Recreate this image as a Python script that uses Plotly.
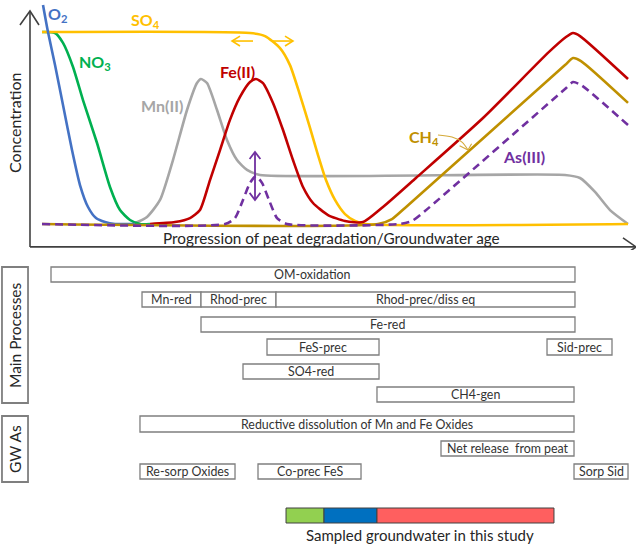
import plotly.graph_objects as go

# ---------------- data (progression units p, concentration units c) ----------------
P_O2 = [2.17, 3.0, 4.17, 5.5, 7.0, 8.33, 9.67, 11.0, 12.5, 14.17, 17.5]
C_O2 = [1.147, 1.005, 0.832, 0.623, 0.387, 0.204, 0.089, 0.031, 0.010, 0.0, 0.0]

P_NO3 = [2.0, 4.17, 5.5, 7.17, 8.83, 11.17, 13.33, 15.0, 16.67, 18.33, 20.0]
C_NO3 = [1.005, 1.0, 0.948, 0.822, 0.649, 0.424, 0.194, 0.073, 0.021, 0.0, 0.0]

P_SO4 = [2.0, 36.67, 39.17, 41.67, 43.33, 45.0, 46.67, 48.0, 49.33, 50.83, 52.5, 54.17, 55.83, 99.67]
C_SO4 = [1.005, 1.0, 0.984, 0.921, 0.832, 0.675, 0.503, 0.361, 0.230, 0.126, 0.052, 0.016, 0.0, 0.0]

P_MN = [17.17, 19.5, 21.67, 23.83, 26.17, 27.83, 28.5, 29.5, 31.17, 32.83, 34.5, 36.17, 38.33, 89.17, 91.67, 94.17, 96.67, 99.67]
C_MN = [0.0, 0.037, 0.126, 0.335, 0.597, 0.738, 0.759, 0.738, 0.597, 0.440, 0.335, 0.283, 0.257, 0.257, 0.241, 0.168, 0.073, 0.0]

P_FE = [20.0, 24.17, 26.67, 28.33, 30.0, 31.67, 33.33, 35.0, 36.67, 37.67, 38.83, 40.5, 42.17, 43.83, 45.5, 47.17,
        49.67, 52.5, 55.5, 58.83, 64.33, 75.5, 86.5, 89.33, 90.5, 91.67, 99.67]
C_FE = [0.0, 0.010, 0.031, 0.073, 0.230, 0.387, 0.545, 0.665, 0.743, 0.759, 0.738, 0.634, 0.492, 0.335, 0.194, 0.110,
        0.047, 0.016, 0.010, 0.089, 0.241, 0.555, 0.901, 0.979, 1.0, 0.984, 0.759]

P_CH4 = [2.0, 58.0, 60.33, 62.5, 89.17, 90.5, 91.83, 99.67]
C_CH4 = [0.0, 0.0, 0.026, 0.084, 0.832, 0.869, 0.853, 0.634]

P_AS = [2.0, 32.5, 34.17, 35.5, 36.67, 37.67, 38.67, 39.83, 41.17, 42.83, 61.67, 63.67, 65.83, 89.17, 90.5, 91.83, 99.67]
C_AS = [0.0, 0.0, 0.031, 0.126, 0.215, 0.251, 0.215, 0.126, 0.031, 0.0, 0.0, 0.016, 0.068, 0.707, 0.743, 0.728, 0.518]

CURVE_LABELS = ["O<sub>2</sub>", "SO<sub>4</sub>", "NO<sub>3</sub>", "Mn(II)", "Fe(II)", "CH<sub>4</sub>", "As(III)"]
LABEL_P = [4.5, 19.33, 10.83, 22.0, 34.5, 65.67, 82.33]
LABEL_C = [1.099, 1.068, 0.848, 0.618, 0.801, 0.455, 0.351]

# process boxes (p units horizontally, track units vertically)
BOX_LABELS = ["OM-oxidation", "Mn-red", "Rhod-prec", "Rhod-prec/diss eq", "Fe-red", "FeS-prec", "Sid-prec",
              "SO4-red", "CH4-gen", "Reductive dissolution of Mn and Fe Oxides", "Net release  from peat",
              "Re-sorp Oxides", "Co-prec FeS", "Sorp Sid"]
BOX_X0 = [3.5, 18.67, 28.5, 41.0, 28.5, 39.5, 86.17, 35.5, 57.83, 18.33, 68.5, 18.33, 38.0, 90.67]
BOX_X1 = [90.83, 28.5, 41.0, 90.83, 90.83, 58.17, 97.0, 58.17, 90.67, 90.67, 90.67, 34.17, 55.17, 99.67]
BOX_T0 = [17, 42, 42, 42, 67, 89, 89, 114, 137, 166, 191, 214, 214, 214]
BOX_T1 = [32, 57, 57, 57, 82, 105, 105, 129, 152, 182, 206, 229, 229, 229]

SIDE_LABELS = ["Main Processes", "GW As"]
SIDE_X0 = [-4.67, -4.67]
SIDE_X1 = [-0.33, -0.33]
SIDE_T0 = [17, 166]
SIDE_T1 = [153, 232]

SAMPLE_X0 = [42.67, 49.0, 57.83]
SAMPLE_X1 = [49.0, 57.83, 87.33]
SAMPLE_COLORS = ["#92D050", "#0070C0", "#FF5F5F"]
SAMPLE_T = [258, 273]

# ---------------- figure ----------------
W, H = 636, 551
TOP_FRAC = 250 / 551

fig = go.Figure()

AX = "#404040"
# axes with open arrowheads
fig.add_trace(go.Scatter(x=[0, 0, None, -1.67, 0, 1.5], y=[-0.120, 1.115, None, 1.042, 1.115, 1.042],
                         mode="lines", line=dict(color=AX, width=1.6), hoverinfo="skip", showlegend=False,
                         cliponaxis=False))
fig.add_trace(go.Scatter(x=[0, 101, None, 98.83, 101, 98.83], y=[-0.120, -0.120, None, -0.073, -0.120, -0.168],
                         mode="lines", line=dict(color=AX, width=1.6), hoverinfo="skip", showlegend=False,
                         cliponaxis=False))

def curve(px, cy, color, dash=None, width=2.6):
    fig.add_trace(go.Scatter(x=px, y=cy, mode="lines",
                             line=dict(color=color, width=width, shape="spline", smoothing=0.6,
                                       dash=dash if dash else "solid"),
                             hoverinfo="skip", showlegend=False, cliponaxis=False))

curve(P_MN, C_MN, "#A6A6A6")
curve(P_NO3, C_NO3, "#00B050")
curve(P_SO4, C_SO4, "#FFC000")
curve(P_O2, C_O2, "#4472C4")
curve(P_FE, C_FE, "#C00000")
curve(P_CH4, C_CH4, "#BF9000")
curve(P_AS, C_AS, "#7030A0", dash="8px,5px")

LABEL_COLORS = ["#4472C4", "#FFC000", "#00B050", "#A6A6A6", "#C00000", "#BF9000", "#7030A0"]
for t, xp, yc, col in zip(CURVE_LABELS, LABEL_P, LABEL_C, LABEL_COLORS):
    fig.add_annotation(x=xp, y=yc, xref="x", yref="y", text="<b>%s</b>" % t, showarrow=False,
                       font=dict(family="Lato", size=16, color=col))

# orange double arrows (SO4 front)
OR = "#FFC000"
fig.add_trace(go.Scatter(
    x=[37.17, 33.67, None, 35.0, 33.67, 35.0, None, 40.5, 43.83, None, 42.5, 43.83, 42.5],
    y=[0.958, 0.958, None, 0.984, 0.958, 0.932, None, 0.958, 0.958, None, 0.984, 0.958, 0.932],
    mode="lines", line=dict(color=OR, width=1.6), hoverinfo="skip", showlegend=False))
# purple double arrow (As bump)
PU = "#7030A0"
fig.add_trace(go.Scatter(
    x=[37.5, 37.5, None, 36.6, 37.5, 38.4, None, 36.6, 37.5, 38.4],
    y=[0.126, 0.377, None, 0.340, 0.377, 0.340, None, 0.163, 0.126, 0.163],
    mode="lines", line=dict(color=PU, width=1.8), hoverinfo="skip", showlegend=False))
# CH4 curved pointer
CH = "#D4AA3A"
fig.add_trace(go.Scatter(x=[68.0, 70.33, 72.0, 73.0], y=[0.466, 0.455, 0.429, 0.387], mode="lines",
                         line=dict(color=CH, width=1.1, shape="spline"), hoverinfo="skip", showlegend=False))
fig.add_trace(go.Scatter(x=[71.6, 73.0, 73.6], y=[0.410, 0.387, 0.420], mode="lines",
                         line=dict(color=CH, width=1.1), hoverinfo="skip", showlegend=False))

TXT = "#262626"
fig.add_annotation(x=-2.5, y=0.529, xref="x", yref="y", text="Concentration", textangle=-90, showarrow=False,
                   font=dict(family="Lato", size=16, color=TXT))
fig.add_annotation(x=50.17, y=-0.073, xref="x", yref="y", text="Progression of peat degradation/Groundwater age",
                   showarrow=False, font=dict(family="Lato", size=15.3, color=TXT))

# ---------------- bottom boxes ----------------
BOXLINE = "#7F7F7F"
for lab, x0, x1, t0, t1 in zip(BOX_LABELS, BOX_X0, BOX_X1, BOX_T0, BOX_T1):
    fig.add_shape(type="rect", xref="x", yref="y2", x0=x0, x1=x1, y0=t0, y1=t1,
                  line=dict(color=BOXLINE, width=1.3), fillcolor="white")
    fig.add_annotation(x=(x0 + x1) / 2, y=(t0 + t1) / 2, xref="x", yref="y2", text=lab, showarrow=False,
                       font=dict(family="Lato", size=12.4, color="#333333"))

for lab, x0, x1, t0, t1 in zip(SIDE_LABELS, SIDE_X0, SIDE_X1, SIDE_T0, SIDE_T1):
    fig.add_shape(type="rect", xref="x", yref="y2", x0=x0, x1=x1, y0=t0, y1=t1,
                  line=dict(color=BOXLINE, width=1.8), fillcolor="white")
    fig.add_annotation(x=(x0 + x1) / 2, y=(t0 + t1) / 2, xref="x", yref="y2", text=lab, textangle=-90,
                       showarrow=False, font=dict(family="Lato", size=15.5, color=TXT))

for x0, x1, col in zip(SAMPLE_X0, SAMPLE_X1, SAMPLE_COLORS):
    fig.add_shape(type="rect", xref="x", yref="y2", x0=x0, x1=x1, y0=SAMPLE_T[0], y1=SAMPLE_T[1],
                  line=dict(color="#404040", width=1), fillcolor=col)
fig.add_annotation(x=65.0, y=285, xref="x", yref="y2", text="Sampled groundwater in this study",
                   showarrow=False, font=dict(family="Lato", size=15, color=TXT))

# invisible anchor trace for the lower axis
fig.add_trace(go.Scatter(x=[0], y=[0], xaxis="x", yaxis="y2", mode="markers", marker=dict(opacity=0),
                         hoverinfo="skip", showlegend=False))

fig.update_layout(
    width=W, height=H, margin=dict(l=0, r=0, t=0, b=0),
    paper_bgcolor="white", plot_bgcolor="white", showlegend=False,
    xaxis=dict(range=[-5, 101], domain=[0, 1], visible=False, fixedrange=True),
    yaxis=dict(range=[-0.1361, 1.1728], domain=[1 - TOP_FRAC, 1], visible=False, fixedrange=True),
    yaxis2=dict(range=[301, 0], domain=[0, 1 - TOP_FRAC], visible=False, anchor="x", fixedrange=True),
)

fig.write_html("out.html")
